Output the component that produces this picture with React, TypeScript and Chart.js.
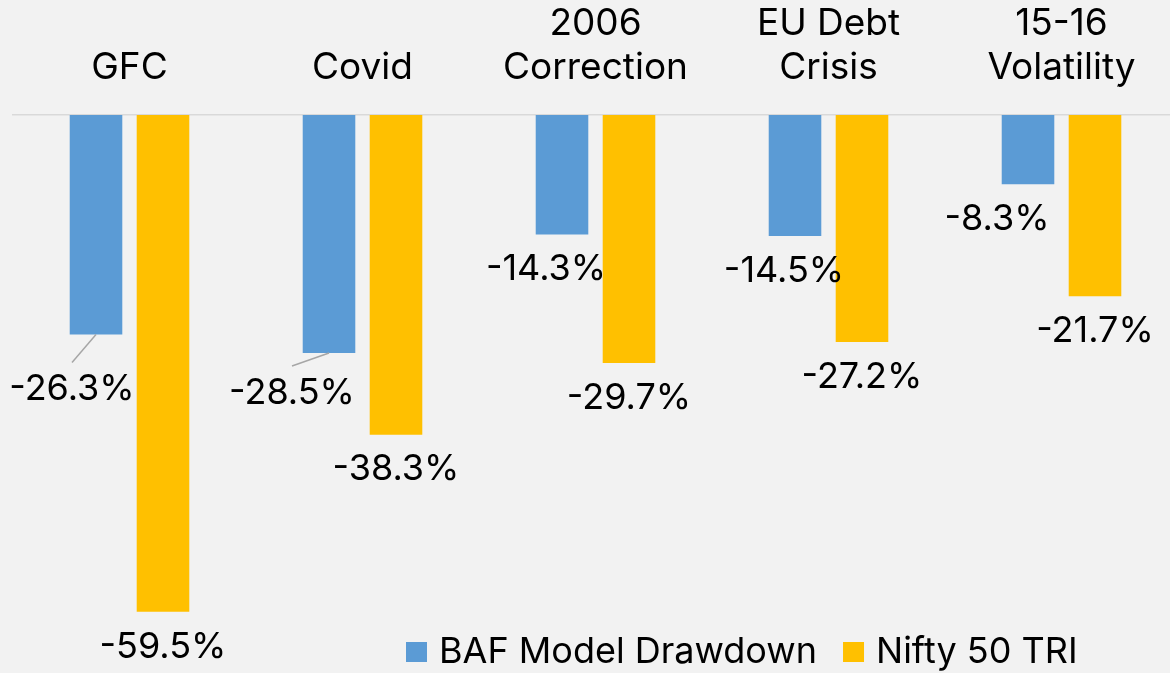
import React, { useEffect, useRef } from "react";
import { Chart, registerables } from "chart.js";

Chart.register(...registerables);

const categories: string[][] = [["GFC"], ["Covid"], ["2006", "Correction"], ["EU Debt", "Crisis"], ["15-16", "Volatility"]];
const seriesNames = ["BAF Model Drawdown", "Nifty 50 TRI"];
const bafValues = [-26.3, -28.5, -14.3, -14.5, -8.3];
const niftyValues = [-59.5, -38.3, -29.7, -27.2, -21.7];

// label placement tweaks (px), per series/point
const labelDx = [
  [-24, -37, -16, -11, -31],
  [0, 0, 0, 0, 0],
];
const labelDy = [
  [55, 40, 35, 35, 35],
  [35, 34, 35, 35, 35],
];
const leaderLines = [
  [true, true, false, false, false],
  [false, false, false, false, false],
];

const COLORS = ["#5B9BD5", "#FFC000"];
const FONT = "Inter, 'Noto Sans', sans-serif";
const FS = 36;

const labelPlugin = {
  id: "valueLabels",
  afterDatasetsDraw(chart: any) {
    const ctx = chart.ctx;
    ctx.save();
    ctx.font = `${FS}px ${FONT}`;
    ctx.fillStyle = "#000";
    ctx.textAlign = "center";
    ctx.textBaseline = "middle";
    chart.data.datasets.forEach((ds: any, di: number) => {
      const meta = chart.getDatasetMeta(di);
      meta.data.forEach((el: any, i: number) => {
        const v = ds.data[i];
        const lx = el.x + labelDx[di][i];
        const ly = el.y + labelDy[di][i];
        if (leaderLines[di][i]) {
          ctx.save();
          ctx.strokeStyle = "#A6A6A6";
          ctx.lineWidth = 1.5;
          ctx.beginPath();
          ctx.moveTo(el.x, el.y);
          ctx.lineTo(lx, ly - 27);
          ctx.stroke();
          ctx.restore();
        }
        ctx.fillText(`${v.toFixed(1)}%`, lx, ly);
      });
    });
    ctx.restore();
  },
};

const legendPlugin = {
  id: "customLegend",
  afterDraw(chart: any) {
    const ctx = chart.ctx;
    ctx.save();
    ctx.font = `${FS}px ${FONT}`;
    ctx.textBaseline = "middle";
    ctx.textAlign = "left";
    const y = 652;
    let x = 406;
    chart.data.datasets.forEach((ds: any, di: number) => {
      ctx.fillStyle = ds.backgroundColor;
      ctx.fillRect(x, y - 10, 21, 20);
      ctx.fillStyle = "#000";
      ctx.fillText(ds.label, x + 33, y);
      const w = ctx.measureText(ds.label).width;
      x = x + 33 + w + 26;
    });
    ctx.restore();
  },
};

export default function App() {
  const ref = useRef<HTMLCanvasElement>(null);
  useEffect(() => {
    document.body.style.overflow = "hidden";
    const chart = new Chart(ref.current!, {
      type: "bar",
      data: {
        labels: categories,
        datasets: [
          { label: seriesNames[0], data: bafValues, backgroundColor: COLORS[0], categoryPercentage: 0.575, barPercentage: 0.785 },
          { label: seriesNames[1], data: niftyValues, backgroundColor: COLORS[1], categoryPercentage: 0.575, barPercentage: 0.785 },
        ],
      },
      options: {
        animation: false,
        responsive: true,
        maintainAspectRatio: false,
        layout: { padding: { left: 13, right: 2, top: 0, bottom: 57 } },
        plugins: { legend: { display: false }, tooltip: { enabled: false } },
        scales: {
          x: {
            position: "top",
            grid: { display: false, drawTicks: false },
            border: { display: true, color: "#D9D9D9", width: 1.5 },
            ticks: { color: "#000", font: { family: FONT, size: 37, lineHeight: 1.2 }, padding: 25, maxRotation: 0, autoSkip: false },
            afterFit: (scale: any) => { scale.height = 115; },
          },
          y: { display: false, min: -60, max: 0 },
        },
      },
      plugins: [labelPlugin, legendPlugin],
    });
    return () => chart.destroy();
  }, []);
  return (
    <div style={{ position: "fixed", left: 0, top: 0, width: 1180, height: 673, background: "#F2F2F2" }}>
      <canvas ref={ref} />
    </div>
  );
}
